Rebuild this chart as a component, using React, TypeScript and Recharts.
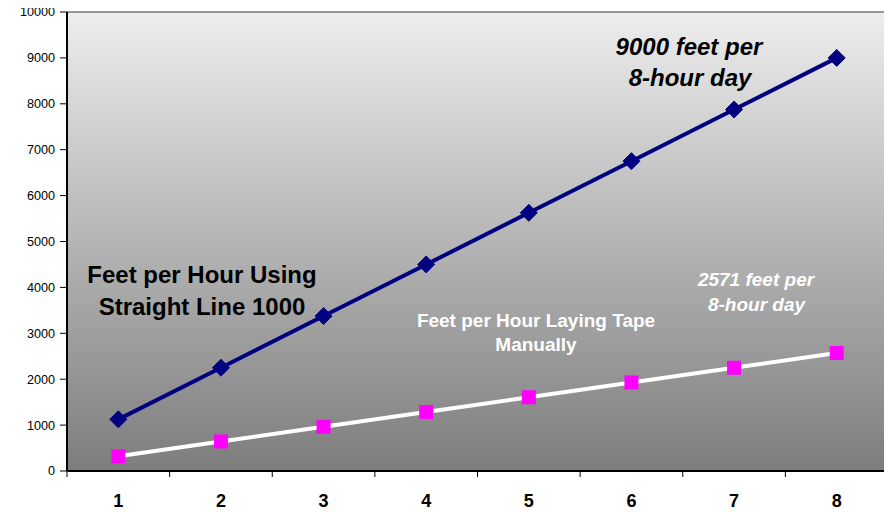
import React from "react";
import { LineChart, Line, XAxis, YAxis, CartesianGrid } from "recharts";

const hours = ["1", "2", "3", "4", "5", "6", "7", "8"];
const straightLine = [1125, 2250, 3375, 4500, 5625, 6750, 7875, 9000];
const manual = [321, 643, 964, 1286, 1607, 1928, 2250, 2571];
const yTicks = [0, 1000, 2000, 3000, 4000, 5000, 6000, 7000, 8000, 9000, 10000];

const data = hours.map((h, i) => ({ hour: h, straight: straightLine[i], manual: manual[i] }));

const FONT = '"Liberation Sans", Arial, sans-serif';
const W = 892;
const H = 512;
const MARGIN = { top: 12, right: 4, left: 8, bottom: 0 };
const Y_W = 59;
const X_H = 41;
const PLOT_W = W - MARGIN.left - MARGIN.right - Y_W;
const HALF_BAND = PLOT_W / hours.length / 2;

const Diamond = (props: any) => {
  const { cx, cy } = props;
  if (cx == null || cy == null) return null;
  const r = 8.5;
  return (
    <polygon
      points={`${cx},${cy - r} ${cx + r},${cy} ${cx},${cy + r} ${cx - r},${cy}`}
      fill="#000080"
      stroke="#000080"
    />
  );
};

const Square = (props: any) => {
  const { cx, cy } = props;
  if (cx == null || cy == null) return null;
  const s = 14;
  return <rect x={cx - s / 2} y={cy - s / 2} width={s} height={s} fill="#ff00ff" />;
};

const XTick = (props: any) => {
  const { x, y, payload, index } = props;
  return (
    <g>
      {index === 0 && (
        <line x1={x - HALF_BAND} x2={x - HALF_BAND} y1={y} y2={y + 6} stroke="#000" strokeWidth={1} />
      )}
      <line x1={x + HALF_BAND} x2={x + HALF_BAND} y1={y} y2={y + 6} stroke="#000" strokeWidth={1} />
      <text x={x} y={y + 36} textAnchor="middle" fontFamily={FONT} fontWeight="bold" fontSize={18} fill="#000">
        {payload.value}
      </text>
    </g>
  );
};

export default function App() {
  return (
    <div style={{ marginTop: -8, marginLeft: -8, width: W, height: H }}>
      <LineChart width={W} height={H} data={data} margin={MARGIN}>
        <defs>
          <linearGradient id="bgGrad" x1="0" y1="0" x2="0" y2="1">
            <stop offset="0%" stopColor="#ededed" />
            <stop offset="100%" stopColor="#7d7d7d" />
          </linearGradient>
        </defs>
        <CartesianGrid vertical={false} stroke="#3a3a3a" strokeWidth={1} fill="url(#bgGrad)" fillOpacity={1} />
        <XAxis
          dataKey="hour"
          height={X_H}
          padding={{ left: HALF_BAND, right: HALF_BAND }}
          axisLine={{ stroke: "#000", strokeWidth: 2 }}
          tickLine={false}
          tickSize={0}
          tickMargin={0}
          tick={<XTick />}
          interval={0}
        />
        <YAxis
          yAxisId="left"
          width={Y_W}
          domain={[0, 10000]}
          ticks={yTicks}
          interval={0}
          axisLine={{ stroke: "#000", strokeWidth: 2 }}
          tickLine={{ stroke: "#000" }}
          tickSize={7}
          tickMargin={5}
          tick={{ fill: "#000", fontSize: 12.6, fontFamily: FONT }}
        />
        <YAxis
          yAxisId="right"
          orientation="right"
          width={0}
          domain={[0, 10000]}
          axisLine={{ stroke: "#9a9a9a", strokeWidth: 1 }}
          tick={false}
          tickLine={false}
        />
        <Line
          yAxisId="left"
          dataKey="straight"
          stroke="#000080"
          strokeWidth={4}
          dot={<Diamond />}
          activeDot={false}
          isAnimationActive={false}
        />
        <Line
          yAxisId="left"
          dataKey="manual"
          stroke="#ffffff"
          strokeWidth={4}
          dot={<Square />}
          activeDot={false}
          isAnimationActive={false}
        />
        <g fontFamily={FONT} fontWeight="bold">
          <text x={689} y={55} textAnchor="middle" fontSize={24} fontStyle="italic" fill="#000">9000 feet per</text>
          <text x={690} y={86} textAnchor="middle" fontSize={24} fontStyle="italic" fill="#000">8-hour day</text>
          <text x={202} y={283} textAnchor="middle" fontSize={24} fill="#000">Feet per Hour Using</text>
          <text x={202} y={315} textAnchor="middle" fontSize={24} fill="#000">Straight Line 1000</text>
          <text x={536} y={327} textAnchor="middle" fontSize={19} fill="#fff">Feet per Hour Laying Tape</text>
          <text x={536} y={351} textAnchor="middle" fontSize={19} fill="#fff">Manually</text>
          <text x={756} y={286} textAnchor="middle" fontSize={19} fontStyle="italic" fill="#fff">2571 feet per</text>
          <text x={756.5} y={311} textAnchor="middle" fontSize={19} fontStyle="italic" fill="#fff">8-hour day</text>
        </g>
      </LineChart>
    </div>
  );
}
